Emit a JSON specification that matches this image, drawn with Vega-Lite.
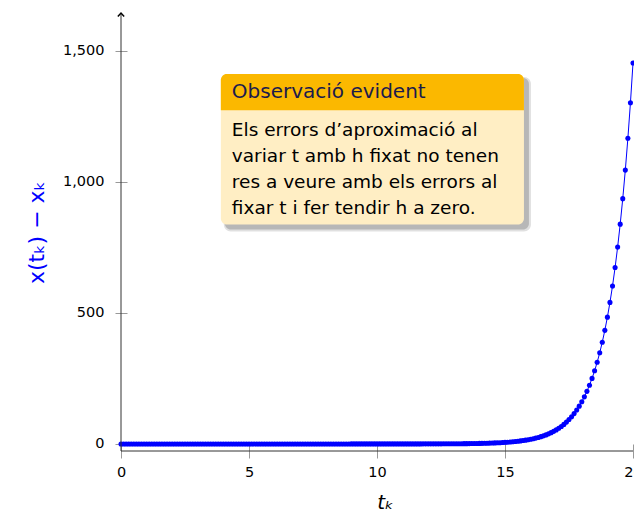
{
  "$schema": "https://vega.github.io/schema/vega-lite/v6.json",
  "autosize": {"type": "none"},
  "padding": {"left": 121, "top": 13, "right": 1, "bottom": 64},
  "width": 512,
  "height": 438,
  "background": "white",
  "config": {"view": {"stroke": null}, "font": "DejaVu Sans"},
  "datasets": {
    "one": [{"k": 1}],
    "err": [
      {"t":0,"e":0},{"t":0.1,"e":0},{"t":0.2,"e":0},{"t":0.3,"e":0},{"t":0.4,"e":0},{"t":0.5,"e":0},{"t":0.6,"e":0},{"t":0.7,"e":0},{"t":0.8,"e":0},{"t":0.9,"e":0},
      {"t":1,"e":0},{"t":1.1,"e":0},{"t":1.2,"e":0},{"t":1.3,"e":0},{"t":1.4,"e":0},{"t":1.5,"e":0},{"t":1.6,"e":0},{"t":1.7,"e":0},{"t":1.8,"e":0},{"t":1.9,"e":0},
      {"t":2,"e":0},{"t":2.1,"e":0},{"t":2.2,"e":0},{"t":2.3,"e":0},{"t":2.4,"e":0},{"t":2.5,"e":0},{"t":2.6,"e":0},{"t":2.7,"e":0},{"t":2.8,"e":0},{"t":2.9,"e":0},
      {"t":3,"e":0},{"t":3.1,"e":0},{"t":3.2,"e":0},{"t":3.3,"e":0},{"t":3.4,"e":0},{"t":3.5,"e":0},{"t":3.6,"e":0},{"t":3.7,"e":0},{"t":3.8,"e":0},{"t":3.9,"e":0},
      {"t":4,"e":0},{"t":4.1,"e":0},{"t":4.2,"e":0},{"t":4.3,"e":0},{"t":4.4,"e":0},{"t":4.5,"e":0},{"t":4.6,"e":0},{"t":4.7,"e":0},{"t":4.8,"e":0},{"t":4.9,"e":0},
      {"t":5,"e":0},{"t":5.1,"e":0},{"t":5.2,"e":0},{"t":5.3,"e":0},{"t":5.4,"e":0},{"t":5.5,"e":0},{"t":5.6,"e":0},{"t":5.7,"e":0},{"t":5.8,"e":0},{"t":5.9,"e":0},
      {"t":6,"e":0},{"t":6.1,"e":0},{"t":6.2,"e":0},{"t":6.3,"e":0},{"t":6.4,"e":0},{"t":6.5,"e":0},{"t":6.6,"e":0},{"t":6.7,"e":0},{"t":6.8,"e":0},{"t":6.9,"e":0},
      {"t":7,"e":0},{"t":7.1,"e":0},{"t":7.2,"e":0},{"t":7.3,"e":0},{"t":7.4,"e":0},{"t":7.5,"e":0},{"t":7.6,"e":0},{"t":7.7,"e":0},{"t":7.8,"e":0},{"t":7.9,"e":0},
      {"t":8,"e":0},{"t":8.1,"e":0},{"t":8.2,"e":0},{"t":8.3,"e":0},{"t":8.4,"e":0},{"t":8.5,"e":0},{"t":8.6,"e":0},{"t":8.7,"e":0},{"t":8.8,"e":0},{"t":8.9,"e":0},
      {"t":9,"e":0.01},{"t":9.1,"e":0.01},{"t":9.2,"e":0.01},{"t":9.3,"e":0.01},{"t":9.4,"e":0.01},{"t":9.5,"e":0.01},{"t":9.6,"e":0.01},{"t":9.7,"e":0.02},{"t":9.8,"e":0.02},{"t":9.9,"e":0.02},
      {"t":10,"e":0.02},{"t":10.1,"e":0.03},{"t":10.2,"e":0.03},{"t":10.3,"e":0.03},{"t":10.4,"e":0.04},{"t":10.5,"e":0.04},{"t":10.6,"e":0.05},{"t":10.7,"e":0.06},{"t":10.8,"e":0.06},{"t":10.9,"e":0.07},
      {"t":11,"e":0.08},{"t":11.1,"e":0.09},{"t":11.2,"e":0.1},{"t":11.3,"e":0.11},{"t":11.4,"e":0.13},{"t":11.5,"e":0.14},{"t":11.6,"e":0.16},{"t":11.7,"e":0.18},{"t":11.8,"e":0.2},{"t":11.9,"e":0.22},
      {"t":12,"e":0.22},{"t":12.1,"e":0.24},{"t":12.2,"e":0.27},{"t":12.3,"e":0.3},{"t":12.4,"e":0.34},{"t":12.5,"e":0.38},{"t":12.6,"e":0.42},{"t":12.7,"e":0.47},{"t":12.8,"e":0.53},{"t":12.9,"e":0.59},
      {"t":13,"e":0.66},{"t":13.1,"e":0.73},{"t":13.2,"e":0.82},{"t":13.3,"e":0.92},{"t":13.4,"e":1.02},{"t":13.5,"e":1.14},{"t":13.6,"e":1.27},{"t":13.7,"e":1.42},{"t":13.8,"e":1.59},{"t":13.9,"e":1.77},
      {"t":14,"e":1.98},{"t":14.1,"e":2.21},{"t":14.2,"e":2.46},{"t":14.3,"e":2.75},{"t":14.4,"e":3.07},{"t":14.5,"e":3.43},{"t":14.6,"e":3.83},{"t":14.7,"e":4.27},{"t":14.8,"e":4.77},{"t":14.9,"e":5.32},
      {"t":15,"e":5.94},{"t":15.1,"e":6.63},{"t":15.2,"e":7.4},{"t":15.3,"e":8.27},{"t":15.4,"e":9.23},{"t":15.5,"e":10.3},{"t":15.6,"e":11.5},{"t":15.7,"e":12.83},{"t":15.8,"e":14.33},{"t":15.9,"e":15.99},
      {"t":16,"e":17.85},{"t":16.1,"e":19.9},{"t":16.2,"e":22.2},{"t":16.3,"e":24.8},{"t":16.4,"e":27.7},{"t":16.5,"e":30.9},{"t":16.6,"e":34.5},{"t":16.7,"e":38.5},{"t":16.8,"e":43},{"t":16.9,"e":48},
      {"t":17,"e":53.6},{"t":17.1,"e":59.9},{"t":17.2,"e":66.8},{"t":17.3,"e":74.6},{"t":17.4,"e":83.3},{"t":17.5,"e":93},{"t":17.6,"e":103.8},{"t":17.7,"e":115.8},{"t":17.8,"e":129.3},{"t":17.9,"e":144.3},
      {"t":18,"e":161.1},{"t":18.1,"e":179.8},{"t":18.2,"e":200.7},{"t":18.3,"e":224.1},{"t":18.4,"e":250.1},{"t":18.5,"e":279.2},{"t":18.6,"e":311.7},{"t":18.7,"e":347.9},{"t":18.8,"e":388.4},{"t":18.9,"e":433.6},
      {"t":19,"e":484},{"t":19.1,"e":540.3},{"t":19.2,"e":603.1},{"t":19.3,"e":673.2},{"t":19.4,"e":751.5},{"t":19.5,"e":838.9},{"t":19.6,"e":936.4},{"t":19.7,"e":1045.3},{"t":19.8,"e":1166.8},{"t":19.9,"e":1302.5},
      {"t":20,"e":1454}
    ]
  },
  "layer": [
    {
      "data": {"name": "err"},
      "mark": {"type": "line", "color": "#0000FF", "strokeWidth": 1},
      "encoding": {
        "x": {
          "field": "t", "type": "quantitative",
          "scale": {"domain": [0, 20], "nice": false, "zero": false},
          "axis": {"values": [0, 5, 10, 15, 20], "format": "d", "domain": false, "grid": false, "offset": -7, "tickSize": 14, "tickColor": "#999999", "labelPadding": 7, "labelFontSize": 14.5, "labelColor": "#000000", "labelFlush": false, "title": "tₖ", "titleFontSize": 20, "titleFontStyle": "italic", "titleFontWeight": "normal", "titleColor": "#000000", "titlePadding": 14, "titleX": 264}
        },
        "y": {
          "field": "e", "type": "quantitative",
          "scale": {"domain": [-27, 1645], "nice": false, "zero": false},
          "axis": {"values": [0, 500, 1000, 1500], "format": ",d", "domain": false, "grid": false, "offset": -6, "tickSize": 12, "tickColor": "#999999", "labelPadding": 11, "labelFontSize": 14.5, "labelColor": "#000000", "title": "x(tₖ) − xₖ", "titleFontSize": 22, "titleFontWeight": "normal", "titleColor": "#0000FF", "titlePadding": 14}
        }
      }
    },
    {
      "data": {"name": "err"},
      "mark": {"type": "point", "filled": true, "color": "#0000FF", "opacity": 1, "size": 26},
      "encoding": {
        "x": {"field": "t", "type": "quantitative"},
        "y": {"field": "e", "type": "quantitative"}
      }
    },
    {
      "data": {"name": "one"},
      "mark": {"type": "rect", "fill": "#000000", "opacity": 0.12, "cornerRadius": 7, "xOffset": 3, "x2Offset": 7, "yOffset": 3, "y2Offset": 7},
      "encoding": {
        "x": {"datum": 3.9, "type": "quantitative"},
        "x2": {"datum": 15.74},
        "y": {"datum": 1412, "type": "quantitative"},
        "y2": {"datum": 838}
      }
    },
    {
      "data": {"name": "one"},
      "mark": {"type": "rect", "fill": "#000000", "opacity": 0.18, "cornerRadius": 6, "xOffset": 4, "x2Offset": 5, "yOffset": 4, "y2Offset": 5},
      "encoding": {
        "x": {"datum": 3.9, "type": "quantitative"},
        "x2": {"datum": 15.74},
        "y": {"datum": 1412, "type": "quantitative"},
        "y2": {"datum": 838}
      }
    },
    {
      "data": {"name": "one"},
      "mark": {"type": "rect", "fill": "#FFEEC4", "cornerRadius": 6},
      "encoding": {
        "x": {"datum": 3.9, "type": "quantitative"},
        "x2": {"datum": 15.74},
        "y": {"datum": 1412, "type": "quantitative"},
        "y2": {"datum": 838}
      }
    },
    {
      "data": {"name": "one"},
      "mark": {"type": "rect", "fill": "#FBB800", "cornerRadiusTopLeft": 6, "cornerRadiusTopRight": 6},
      "encoding": {
        "x": {"datum": 3.9, "type": "quantitative"},
        "x2": {"datum": 15.74},
        "y": {"datum": 1412, "type": "quantitative"},
        "y2": {"datum": 1274}
      }
    },
    {
      "data": {"name": "one"},
      "mark": {"type": "text", "text": "Observació evident", "align": "left", "baseline": "middle", "fontSize": 20, "color": "#1B1B4D", "dx": 11},
      "encoding": {
        "x": {"datum": 3.9, "type": "quantitative"},
        "y": {"datum": 1343, "type": "quantitative"}
      }
    },
    {
      "data": {"name": "one"},
      "mark": {"type": "text", "text": ["Els errors d’aproximació al", "variar t amb h fixat no tenen", "res a veure amb els errors al", "fixar t i fer tendir h a zero."], "align": "left", "baseline": "middle", "fontSize": 18.5, "lineHeight": 26, "color": "#000000", "dx": 11},
      "encoding": {
        "x": {"datum": 3.9, "type": "quantitative"},
        "y": {"datum": 1197, "type": "quantitative"}
      }
    },
    {
      "data": {"name": "one"},
      "mark": {"type": "rule", "color": "#333333", "strokeWidth": 1},
      "encoding": {
        "x": {"datum": 0, "type": "quantitative"},
        "x2": {"datum": 20},
        "y": {"datum": -27, "type": "quantitative"}
      }
    },
    {
      "data": {"name": "one"},
      "mark": {"type": "rule", "color": "#333333", "strokeWidth": 1},
      "encoding": {
        "x": {"datum": 0, "type": "quantitative"},
        "y": {"datum": -27, "type": "quantitative"},
        "y2": {"datum": 1645}
      }
    },
    {
      "data": {"name": "one"},
      "mark": {"type": "point", "shape": "M-1,1.1L0,0L1,1.1", "filled": false, "stroke": "#000000", "strokeWidth": 1.5, "size": 40, "opacity": 1},
      "encoding": {
        "x": {"datum": 0, "type": "quantitative"},
        "y": {"datum": 1645, "type": "quantitative"}
      }
    }
  ]
}
